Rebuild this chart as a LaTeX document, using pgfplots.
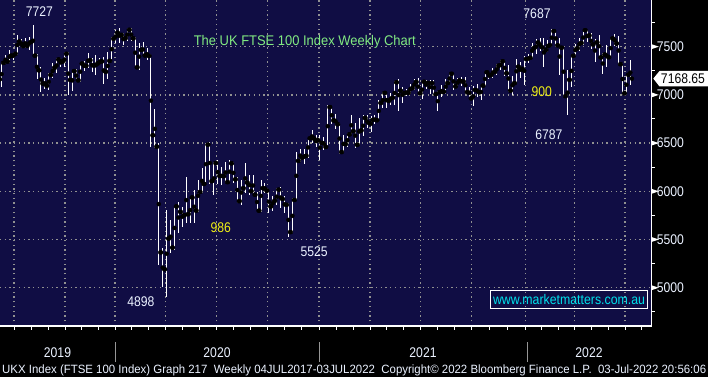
\documentclass[border=0pt]{standalone}
\usepackage{pgfplots}
\pgfplotsset{compat=1.18}
\usepackage{pgfplotstable}
\usepackage{fontspec}
\setmainfont{Liberation Sans}
\usepackage{graphicx}

\definecolor{navy}{RGB}{16,13,68}
\definecolor{griddot}{RGB}{145,145,145}
\definecolor{lbl}{RGB}{235,242,255}
\definecolor{ttl}{RGB}{130,235,130}
\definecolor{yel}{RGB}{240,240,20}
\definecolor{cyn}{RGB}{0,225,235}
\definecolor{sep}{RGB}{150,150,150}

\newcommand\nar[1]{\scalebox{0.87}[1]{#1}}
\newcommand\fs{\fontsize{14}{16}\selectfont}

% weekly OHLC, w = weeks after 29 Jul 2019
\pgfplotstableread{
w o h l c
-8 7161 7345 7085 7332
-7 7332 7413 7316 7346
-6 7346 7465 7327 7407
-5 7407 7448 7362 7426
-4 7426 7621 7413 7553
-3 7553 7580 7483 7506
-2 7506 7587 7483 7509
-1 7509 7604 7465 7549
0 7549 7727 7396 7407
1 7407 7420 7161 7254
2 7254 7292 7026 7117
3 7117 7180 7060 7095
4 7095 7223 7050 7207
5 7207 7327 7170 7282
6 7282 7380 7230 7367
7 7367 7380 7292 7345
8 7345 7440 7292 7426
9 7426 7440 7000 7155
10 7155 7260 7040 7247
11 7247 7270 7130 7151
12 7151 7344 7137 7324
13 7324 7350 7250 7302
14 7302 7430 7275 7359
15 7359 7380 7240 7303
16 7303 7413 7206 7327
17 7327 7380 7310 7347
18 7347 7396 7110 7240
19 7240 7440 7160 7353
20 7353 7604 7344 7582
21 7582 7673 7535 7645
22 7645 7690 7535 7622
23 7622 7640 7517 7588
24 7588 7690 7560 7675
25 7675 7690 7560 7586
26 7586 7600 7275 7286
27 7286 7534 7260 7467
28 7467 7552 7390 7409
29 7409 7483 7362 7404
30 7404 7420 6460 6581
31 6581 6850 6445 6463
32 6463 6500 5235 5366
33 5366 5408 5010 5191
34 5191 5806 4899 5510
35 5510 5702 5356 5416
36 5416 5850 5390 5843
37 5843 5892 5564 5787
38 5787 5840 5633 5752
39 5752 6151 5667 5763
40 5763 5944 5667 5936
41 5936 6013 5667 5800
42 5800 6117 5789 5993
43 5993 6238 5978 6077
44 6077 6497 6065 6484
45 6484 6511 6076 6105
46 6105 6307 5961 6293
47 6293 6320 6080 6159
48 6159 6255 6065 6157
49 6157 6307 6082 6095
50 6095 6324 6082 6290
51 6290 6300 6082 6124
52 6124 6151 5875 5898
53 5898 6117 5858 6032
54 6032 6290 5978 6090
55 6090 6169 5961 6002
56 6002 6169 5951 5964
57 5964 5990 5788 5799
58 5799 6117 5788 6032
59 6032 6082 5979 6007
60 6007 6013 5771 5843
61 5843 5951 5800 5902
62 5902 6030 5858 6017
63 6017 6040 5830 5920
64 5920 5950 5780 5860
65 5860 5880 5526 5577
66 5577 5927 5563 5910
67 5910 6411 5910 6316
68 6316 6440 6300 6351
69 6351 6440 6280 6368
70 6368 6560 6350 6550
71 6550 6640 6498 6547
72 6547 6580 6460 6529
73 6529 6580 6325 6502
74 6502 6560 6430 6461
75 6461 6895 6455 6873
76 6873 6877 6700 6736
77 6736 6800 6650 6695
78 6695 6705 6390 6407
79 6407 6584 6400 6489
80 6489 6600 6460 6590
81 6590 6790 6580 6624
82 6624 6705 6450 6483
83 6483 6760 6480 6631
84 6631 6790 6570 6761
85 6761 6790 6660 6709
86 6709 6780 6620 6741
87 6741 6790 6700 6737
88 6737 6947 6720 6916
89 6916 7033 6860 7020
90 7020 7033 6860 6938
91 6938 7020 6895 6970
92 6970 7140 6900 7130
93 7130 7165 6830 7044
94 7044 7080 6920 7018
95 7018 7060 6990 7023
96 7023 7110 7010 7069
97 7069 7160 7050 7134
98 7134 7170 7000 7017
99 7017 7150 6960 7136
100 7136 7150 7060 7123
101 7123 7150 7010 7122
102 7122 7150 7000 7008
103 7008 7040 6830 7028
104 7028 7100 6980 7032
105 7032 7160 7010 7123
106 7123 7230 7110 7219
107 7219 7230 7050 7088
108 7088 7170 7080 7148
109 7148 7190 7090 7138
110 7138 7190 7010 7029
111 7029 7080 6960 6964
112 6964 7090 6880 7051
113 7051 7110 6980 7027
114 7027 7110 6950 7096
115 7096 7240 7090 7234
116 7234 7240 7160 7205
117 7205 7280 7180 7238
118 7238 7320 7210 7304
119 7304 7360 7260 7348
120 7348 7360 7200 7224
121 7224 7310 7030 7044
122 7044 7200 7000 7122
123 7122 7370 7120 7292
124 7292 7340 7180 7270
125 7270 7400 7100 7372
126 7372 7420 7330 7385
127 7385 7535 7380 7485
128 7485 7580 7420 7543
129 7543 7590 7450 7494
130 7494 7590 7290 7466
131 7466 7570 7440 7516
132 7516 7687 7500 7661
133 7661 7670 7500 7514
134 7514 7590 7206 7489
135 7489 7500 6980 6987
136 6987 7258 6787 7156
137 7156 7413 7085 7405
138 7405 7530 7400 7483
139 7483 7590 7460 7538
140 7538 7670 7520 7670
141 7670 7670 7550 7616
142 7616 7640 7480 7522
143 7522 7580 7340 7545
144 7545 7620 7390 7388
145 7388 7430 7220 7418
146 7418 7520 7290 7390
147 7390 7590 7380 7585
148 7585 7630 7510 7533
149 7533 7610 7310 7318
150 7318 7330 7000 7016
151 7016 7210 7000 7209
152 7209 7362 7100 7168.65
}\ohlc

\begin{document}
\begin{tikzpicture}[x=1pt,y=1pt]
\fill[black] (0,0) rectangle (708,377);
\path[use as bounding box] (0,0) rectangle (708,377);
\begin{axis}[
  at={(0pt,51pt)}, anchor=south west, scale only axis,
  width=651.7pt, height=326pt,
  xmin=0, xmax=651.7, ymin=4603, ymax=7984,
  clip=false,
  axis background/.style={fill=navy},
  axis line style={draw=none},
  xtick={14,65,115,165.7,216.7,267.7,319,370,420.7,471.7,525.7,574.3,625},
  minor xtick={31,48,81.7,98.3,131.9,148.8,182.7,199.7,233.7,250.7,284.8,301.9,336,353,386.9,403.8,437.7,454.7,489.7,507.7,541.9,558.1,591.2,608.1,641.9},
  xticklabels={},
  xtick pos=left, tick align=outside,
  major tick length=4pt, minor tick length=4pt,
  every tick/.style={white, line width=1pt},
  ytick={5000,5500,6000,6500,7000,7500},
  yticklabels={\nar{5000},\nar{5500},\nar{6000},\nar{6500},\nar{7000},\nar{7500}},
  ytick pos=right, yticklabel pos=right,
  every y tick/.style={draw=none},
  yticklabel style={font=\fs, text=lbl, anchor=west, xshift=1pt, inner sep=0pt},
  xmajorgrids, ymajorgrids,
  major grid style={griddot, line width=1.3pt, dash pattern=on 1.3pt off 3.4pt},
]
% high-low lines
\addplot[only marks, mark=none, forget plot,
  error bars/.cd, y dir=both, y explicit, error mark=none,
  error bar style={white, solid, line width=0.85pt}]
  table[x expr=33+3.93*\thisrow{w}, y expr=(\thisrow{h}+\thisrow{l})/2,
        y error expr=(\thisrow{h}-\thisrow{l})/2] {\ohlc};
% open ticks
\addplot[only marks, mark=none, forget plot,
  error bars/.cd, x dir=both, x explicit, error mark=none,
  error bar style={white, solid, line width=0.85pt}]
  table[x expr=33+3.93*\thisrow{w}-1.5, y=o, x error expr=1.5] {\ohlc};
% close ticks
\addplot[only marks, mark=none, forget plot,
  error bars/.cd, x dir=both, x explicit, error mark=none,
  error bar style={white, solid, line width=0.85pt}]
  table[x expr=33+3.93*\thisrow{w}+1.5, y=c, x error expr=1.5] {\ohlc};
\end{axis}
% axis frame lines
\draw[white, line width=1.2pt] (0,51) -- (651.7,51);
\draw[white, line width=1.2pt] (651.7,51) -- (651.7,377);
% right y markers
\foreach \Y in {89.28,137.49,185.70,233.91,282.12,330.33}{
  \fill[white] (651.7,\Y+2.4) -- (651.7,\Y-2.4) -- (658.8,\Y) -- cycle;}
\foreach \Y in {65.18,113.39,161.60,209.81,258.02,306.23,354.44}{
  \draw[white, line width=1pt] (651.7,\Y) -- (655.2,\Y);}
% last price tag
\fill[white] (653.3,298.4) -- (659.5,306) -- (708,306) -- (708,290.5) -- (659.5,290.5) -- cycle;
\node[text=black, font=\fs, inner sep=0pt] at (683,298.3) {\nar{7168.65}};
% title
\node[text=ttl, font=\fs, inner sep=0pt, anchor=base] at (304.8,331) {\resizebox{222pt}{\height}{The UK FTSE 100 Index Weekly Chart}};
% annotations
\node[text=lbl, font=\fs, inner sep=0pt] at (39.3,365.3) {\nar{7727}};
\node[text=lbl, font=\fs, inner sep=0pt] at (537,363.2) {\nar{7687}};
\node[text=lbl, font=\fs, inner sep=0pt] at (140.8,75) {\nar{4898}};
\node[text=lbl, font=\fs, inner sep=0pt] at (314.2,125.8) {\nar{5525}};
\node[text=lbl, font=\fs, inner sep=0pt] at (548.8,242.7) {\nar{6787}};
\node[text=yel, font=\fs, inner sep=0pt] at (220.7,149) {\nar{986}};
\node[text=yel, font=\fs, inner sep=0pt] at (541.7,285.7) {\nar{900}};
% watermark
\node[draw=white, line width=1pt, text=cyn, font=\fs, inner sep=0pt,
  minimum width=156.6pt, minimum height=18.3pt] at (569,77.8)
  {\resizebox{152pt}{\height}{www.marketmatters.com.au}};
% year separators and labels
\foreach \X in {115,319,527}{\draw[sep, line width=1pt] (\X,15) -- (\X,35);}
\node[text=lbl, font=\fs, inner sep=0pt, anchor=base] at (57.5,20) {\nar{2019}};
\node[text=lbl, font=\fs, inner sep=0pt, anchor=base] at (217,20) {\nar{2020}};
\node[text=lbl, font=\fs, inner sep=0pt, anchor=base] at (423,20) {\nar{2021}};
\node[text=lbl, font=\fs, inner sep=0pt, anchor=base] at (589,20) {\nar{2022}};
% footer
\node[text=lbl, font=\fontsize{12}{14}\selectfont, inner sep=0pt, anchor=base west] at (2,3.5)
  {\resizebox{704pt}{\height}{UKX Index (FTSE 100 Index) Graph 217\ \ Weekly 04JUL2017-03JUL2022\ \ Copyright© 2022 Bloomberg Finance L.P.\ \ 03-Jul-2022 20:56:06}};
\end{tikzpicture}
\end{document}
